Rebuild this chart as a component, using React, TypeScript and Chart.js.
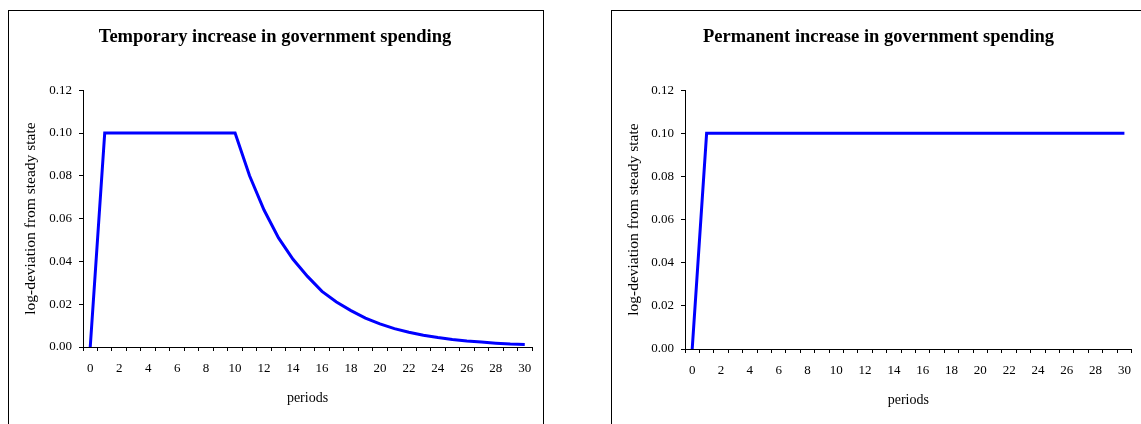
import React, { useEffect, useRef } from "react";
import { Chart, registerables } from "chart.js";

Chart.register(...registerables);

const periods = ["0","1","2","3","4","5","6","7","8","9","10","11","12","13","14","15","16","17","18","19","20","21","22","23","24","25","26","27","28","29","30"];

const temporarySpending = [0, 0.1, 0.1, 0.1, 0.1, 0.1, 0.1, 0.1, 0.1, 0.1, 0.1,
  0.080, 0.064, 0.051, 0.041, 0.033, 0.026, 0.021, 0.017, 0.0135, 0.0108,
  0.0086, 0.0069, 0.0055, 0.0044, 0.0035, 0.0028, 0.0023, 0.0018, 0.0014, 0.0012];

const permanentSpending = [0, 0.1, 0.1, 0.1, 0.1, 0.1, 0.1, 0.1, 0.1, 0.1, 0.1,
  0.1, 0.1, 0.1, 0.1, 0.1, 0.1, 0.1, 0.1, 0.1, 0.1,
  0.1, 0.1, 0.1, 0.1, 0.1, 0.1, 0.1, 0.1, 0.1, 0.1];

const yMin = 0;
const yMax = 0.12;
const yStep = 0.02;

const FONT = "'Liberation Serif', 'Times New Roman', serif";

type PanelProps = {
  title: string;
  values: number[];
  width: number;
  height: number;
  padLeft: number;
  padRight: number;
  padBottom: number;
  yWidth: number;
};

function Panel({ title, values, width, height, padLeft, padRight, padBottom, yWidth }: PanelProps) {
  const ref = useRef<HTMLCanvasElement | null>(null);
  useEffect(() => {
    if (!ref.current) return;
    const chart = new Chart(ref.current, {
      type: "line",
      data: {
        labels: periods,
        datasets: [
          {
            data: values,
            borderColor: "#0000FF",
            backgroundColor: "#0000FF",
            borderWidth: 3,
            pointRadius: 0,
            tension: 0,
            fill: false,
          },
        ],
      },
      options: {
        animation: false,
        responsive: false,
        maintainAspectRatio: false,
        layout: { padding: { left: padLeft, right: padRight, top: 0, bottom: padBottom } },
        plugins: {
          legend: { display: false },
          tooltip: { enabled: false },
          title: {
            display: true,
            text: title,
            color: "#000",
            font: { family: FONT, size: 18.5, weight: "bold" },
            padding: { top: 15, bottom: 42 },
          },
        },
        scales: {
          x: {
            type: "category",
            offset: true,
            grid: {
              display: true,
              offset: true,
              drawOnChartArea: false,
              drawTicks: true,
              tickLength: 4,
              color: "#000",
            },
            border: { display: true, color: "#000", width: 1 },
            ticks: {
              autoSkip: false,
              maxRotation: 0,
              padding: 10,
              color: "#000",
              font: { family: FONT, size: 13 },
              callback: (_v: any, i: number) => (i % 2 === 0 ? periods[i] : ""),
            },
            title: {
              display: true,
              text: "periods",
              color: "#000",
              font: { family: FONT, size: 14 },
              padding: 0,
            },
            afterFit: (s: any) => {
              s.height = 60;
            },
          },
          y: {
            min: yMin,
            max: yMax,
            grid: {
              display: true,
              drawOnChartArea: false,
              drawTicks: true,
              tickLength: 4,
              color: "#000",
            },
            border: { display: true, color: "#000", width: 1 },
            ticks: {
              stepSize: yStep,
              padding: 7,
              color: "#000",
              font: { family: FONT, size: 13 },
              callback: (v: any) => Number(v).toFixed(2),
            },
            title: {
              display: true,
              text: "log-deviation from steady state",
              color: "#000",
              font: { family: FONT, size: 15.5 },
              padding: { top: 4, bottom: 4 },
            },
            afterFit: (s: any) => {
              s.width = yWidth;
            },
          },
        },
      },
    } as any);
    return () => chart.destroy();
  }, []);
  return <canvas ref={ref} width={width} height={height} style={{ width, height, display: "block" }} />;
}

export default function App() {
  return (
    <div style={{ position: "absolute", left: 0, top: 0, width: 1141, height: 424, overflow: "hidden", background: "#fff" }}>
      <div
        style={{
          position: "absolute",
          left: 8,
          top: 10,
          width: 536,
          height: 440,
          boxSizing: "border-box",
          border: "1px solid #000",
        }}
      >
        <Panel
          title="Temporary increase in government spending"
          values={temporarySpending}
          width={534}
          height={420}
          padLeft={9}
          padRight={11}
          padBottom={24}
          yWidth={65}
        />
      </div>
      <div
        style={{
          position: "absolute",
          left: 611,
          top: 10,
          width: 540,
          height: 440,
          boxSizing: "border-box",
          borderLeft: "1px solid #000",
          borderTop: "1px solid #000",
        }}
      >
        <Panel
          title="Permanent increase in government spending"
          values={permanentSpending}
          width={529}
          height={420}
          padLeft={9}
          padRight={5}
          padBottom={22}
          yWidth={64}
        />
      </div>
    </div>
  );
}
